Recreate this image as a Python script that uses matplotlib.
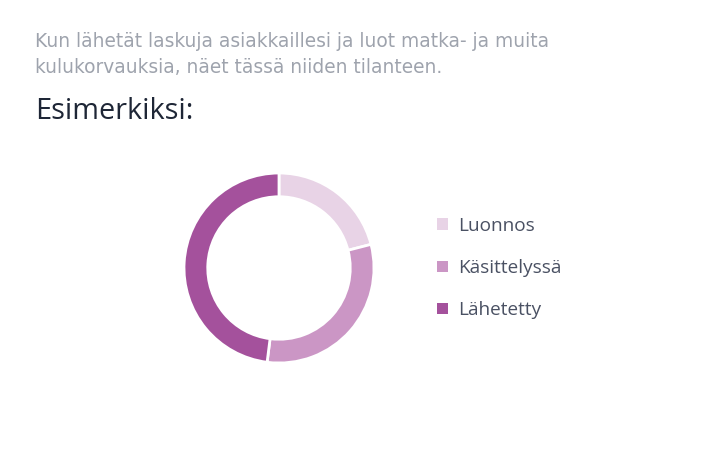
import matplotlib.pyplot as plt

# chart data
labels = ['Luonnos', 'Käsittelyssä', 'Lähetetty']
values = [21, 31, 48]
colors = ['#e8d3e6', '#cb96c5', '#a4519c']

intro = ['Kun lähetät laskuja asiakkaillesi ja luot matka- ja muita',
         'kulukorvauksia, näet tässä niiden tilanteen.']
heading = 'Esimerkiksi:'

W, H = 703, 476
fig = plt.figure(figsize=(W / 100, H / 100), dpi=100)

for line, base in zip(intro, [47, 73]):
    fig.text(35 / W, 1 - base / H, line, ha='left', va='baseline', fontsize=13.4,
             color='#9ea3ad', family='DejaVu Sans')
fig.text(35 / W, 1 - 119 / H, heading, ha='left', va='baseline', fontsize=20.8,
         color='#1e2636', family='Open Sans', weight='medium')

# donut, centre (279, 268) px, radius 95 px
cx, cy, r = 279, 268, 95
ax = fig.add_axes([(cx - r) / W, (H - cy - r) / H, 2 * r / W, 2 * r / H])
wedges, _ = ax.pie(values, colors=colors, startangle=90, counterclock=False,
                   radius=1, wedgeprops=dict(width=0.25, edgecolor='white', linewidth=2))
ax.set_xlim(-1, 1)
ax.set_ylim(-1, 1)
ax.set_aspect('equal')
ax.axis('off')

leg = fig.legend(wedges, labels, loc='center left',
                 bbox_to_anchor=(420 / W, 1 - 268 / H), frameon=False,
                 prop={'family': 'Open Sans', 'size': 13.7},
                 handlelength=0.55, handleheight=0.55, handletextpad=0.55,
                 labelspacing=1.28, labelcolor='#4a5163')
for h in leg.legend_handles:
    h.set_edgecolor('none')

fig.savefig('out.png', dpi=100)
